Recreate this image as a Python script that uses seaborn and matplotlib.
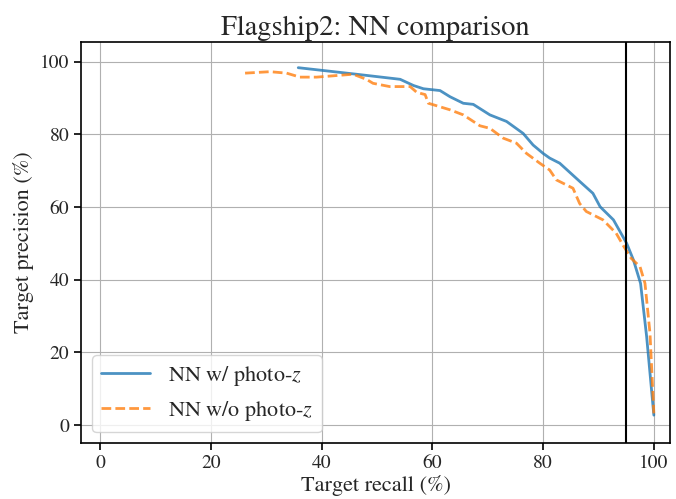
import pandas as pd
import matplotlib
matplotlib.use("Agg")
import matplotlib.pyplot as plt
import seaborn as sns

# Recall / precision curves (%)
recall_with = [35.8, 46.3, 54.2, 56.6, 58.4, 61.4, 63.2, 65.6, 67.4, 70.4, 73.4, 76.4,
               78.2, 80.0, 81.2, 83.0, 86.6, 89.0, 90.3, 92.7, 95.1, 96.3, 97.6, 98.7, 100.0]
precision_with = [98.4, 96.6, 95.2, 93.5, 92.6, 92.1, 90.4, 88.6, 88.3, 85.4, 83.6, 80.3,
                  77.1, 74.8, 73.5, 72.1, 67.1, 63.8, 60.1, 56.5, 50.0, 45.5, 39.0, 24.3, 2.7]

recall_without = [26.2, 30.7, 33.7, 36.1, 39.1, 45.7, 48.1, 49.3, 52.3, 56.0, 57.2, 58.7,
                  59.3, 63.2, 65.6, 68.6, 70.4, 72.8, 75.2, 77.0, 79.4, 81.2, 82.4, 85.4,
                  86.6, 87.8, 90.8, 93.2, 94.4, 95.9, 97.5, 98.4, 99.3, 100.0]
precision_without = [96.9, 97.3, 96.9, 95.8, 95.8, 96.6, 95.2, 94.1, 93.2, 93.2, 91.6, 91.0,
                     88.6, 86.8, 85.4, 82.4, 81.7, 79.0, 77.6, 74.8, 72.1, 70.2, 67.5, 65.2,
                     61.0, 58.8, 56.5, 52.8, 49.6, 45.9, 43.6, 39.0, 25.3, 3.2]

recall_cut = 95

labels = ["NN w/ photo-$z$", "NN w/o photo-$z$"]

df = pd.concat([
    pd.DataFrame({"recall": recall_with, "precision": precision_with, "model": labels[0]}),
    pd.DataFrame({"recall": recall_without, "precision": precision_without, "model": labels[1]}),
])

sns.set_style("ticks", {"axes.grid": True})
plt.rcParams["font.family"] = ["STIXGeneral", "Liberation Serif", "DejaVu Serif"]
plt.rcParams["mathtext.fontset"] = "stix"

fig = plt.figure(figsize=(6.76, 4.99), dpi=100)
ax = fig.add_axes([0.12, 0.112, 0.871, 0.804])

sns.lineplot(data=df, x="recall", y="precision", hue="model", style="model",
             palette=["tab:blue", "tab:orange"], dashes=[(None, None), (3.5, 1.5)],
             linewidth=2, alpha=0.8, sort=False, estimator=None, ax=ax)
ax.axvline(recall_cut, color="black", linewidth=1.5)

ax.set_xlim(-3.4, 102.9)
ax.set_ylim(-5, 105.5)
ax.set_xticks([0, 20, 40, 60, 80, 100])
ax.set_yticks([0, 20, 40, 60, 80, 100])
ax.grid(True, color="#b0b0b0", linewidth=0.8)
ax.tick_params(labelsize=14, direction="out", length=5, width=1.2, color="black")
for s in ax.spines.values():
    s.set_color("black")
    s.set_linewidth(1.2)

ax.set_xlabel("Target recall (%)", fontsize=16, labelpad=2)
ax.set_ylabel("Target precision (%)", fontsize=16)
ax.set_title("Flagship2: NN comparison", fontsize=20.5, pad=5)

handles, _ = ax.get_legend_handles_labels()
ax.legend(handles=handles, labels=labels, loc="lower left", fontsize=16, frameon=True,
          handlelength=2.2)

fig.savefig("out.png", dpi=100)
